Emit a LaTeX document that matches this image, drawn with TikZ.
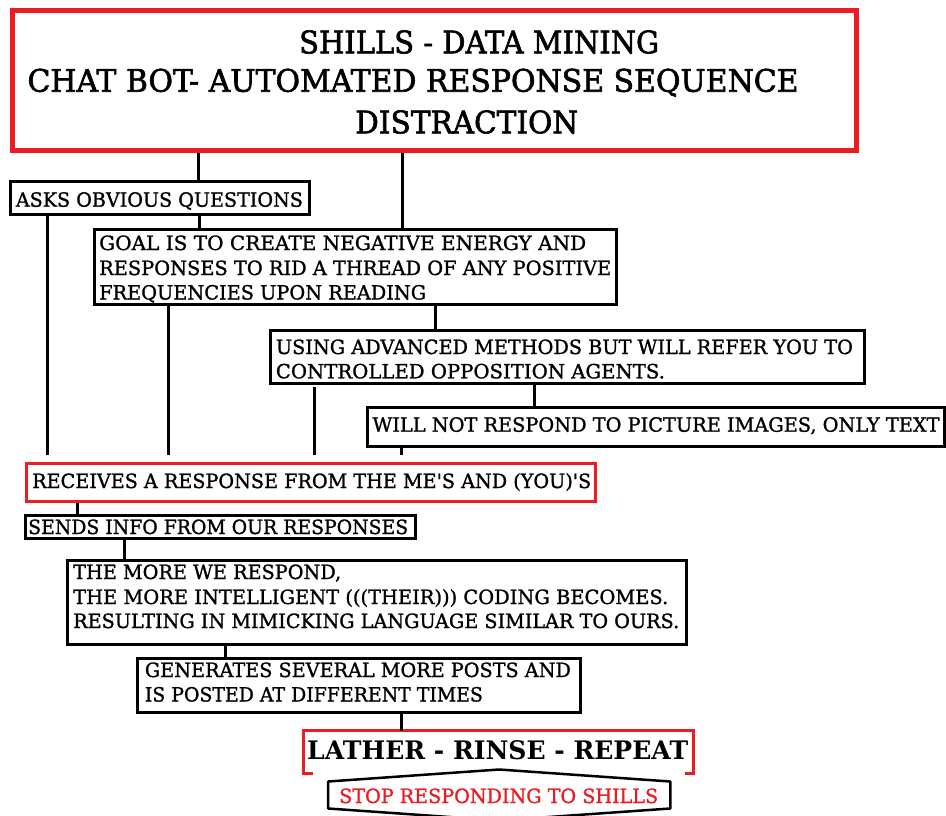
\documentclass[tikz,border=0pt]{standalone}
\usepackage{fontspec}
\usepackage{graphicx}
\setmainfont{DejaVu Serif}
\newfontfamily\heavy{DejaVu Serif}[FakeBold=1.2]
\newfontfamily\heavier{DejaVu Serif}[FakeBold=2]
\definecolor{pred}{HTML}{ED1C24}
\newcommand\fw[2]{\resizebox{#1pt}{\height}{#2}}
\newcommand\apo{\textquotesingle}
\begin{document}
\begin{tikzpicture}[x=1pt,y=-1pt,
  blk/.style={draw=black,line width=3pt,inner sep=0pt},
  redb/.style={draw=pred,line width=3pt,inner sep=0pt},
  ghost/.style={inner sep=0pt},
  ln/.style={inner sep=0pt,anchor=base west,font=\heavy\fontsize{19.6}{24}\selectfont},
  ttl/.style={inner sep=0pt,anchor=base west,font=\heavier\fontsize{31}{38}\selectfont},
  conn/.style={line width=3pt},
  gap/.style={shorten >=6.5pt}]
\useasboundingbox[fill=white] (0,0) rectangle (946,816);

% boxes
\node[redb,line width=5pt,minimum width=844.3pt,minimum height=140pt] (title) at (434.6,80.8) {};
\node[blk,minimum width=298.5pt,minimum height=32.6pt] (asks) at (159.75,198) {};
\node[blk,minimum width=522pt,minimum height=75pt] (goal) at (355.5,267) {};
\node[blk,minimum width=594pt,minimum height=53pt] (using) at (567.5,357) {};
\node[blk,minimum width=577pt,minimum height=39pt] (willnot) at (656,427) {};
\node[redb,minimum width=569pt,minimum height=38pt] (receives) at (311,482.2) {};
\node[blk,minimum width=390.3pt,minimum height=23pt] (sends) at (220.65,527) {};
\node[blk,minimum width=619.6pt,minimum height=83.7pt] (more) at (377,602.6) {};
\node[blk,minimum width=443.6pt,minimum height=54.3pt] (gen) at (359,685.4) {};
\node[ghost,minimum width=390.3pt,minimum height=42.3pt] (lather) at (498.35,752.2) {};
\node[ghost,minimum width=341.7pt,minimum height=26.6pt] (stop) at (499.2,795) {};

% bracket and hexagon
\draw[pred,line width=3pt] ([xshift=10pt]lather.south west) -- (lather.south west) -- (lather.north west) -- (lather.north east) -- (lather.south east) -- ([xshift=-9pt]lather.south east);
\draw[black,line width=2.5pt,line join=round] (stop.north west) -- ([yshift=12pt]stop.north) -- (stop.north east) -- (stop.south east) -- ([yshift=-12pt]stop.south) -- (stop.south west) -- cycle;

% texts
\node[ttl] (t1) at (299,53.3) {\fw{360}{SHILLS - DATA MINING}};
\node[ttl] (t2) at (27.3,91.7) {\fw{771}{CHAT BOT- AUTOMATED RESPONSE SEQUENCE}};
\node[ttl] (t3) at (355,133.3) {\fw{223}{DISTRACTION}};
\node[ln] (a1) at (15.7,206.7) {\fw{287}{ASKS OBVIOUS QUESTIONS}};
\node[ln] (g1) at (99,250) {\fw{487}{GOAL IS TO CREATE NEGATIVE ENERGY AND}};
\node[ln] (g2) at (99,275) {\fw{512}{RESPONSES TO RID A THREAD OF ANY POSITIVE}};
\node[ln] (g3) at (99,299.5) {\fw{327}{FREQUENCIES UPON READING}};
\node[ln] (u1) at (275.7,354) {\fw{577}{USING ADVANCED METHODS BUT WILL REFER YOU TO}};
\node[ln] (u2) at (275.7,378.3) {\fw{389}{CONTROLLED OPPOSITION AGENTS.}};
\node[ln] (w1) at (372.3,431.7) {\fw{567}{WILL NOT RESPOND TO PICTURE IMAGES, ONLY TEXT}};
\node[ln] (r1) at (32,488) {\fw{559}{RECEIVES A RESPONSE FROM THE ME\apo S AND (YOU)\apo S}};
\node[ln] (s1) at (28,534) {\fw{380}{SENDS INFO FROM OUR RESPONSES}};
\node[ln] (m1) at (73,579) {\fw{268}{THE MORE WE RESPOND,}};
\node[ln] (m2) at (73,604) {\fw{595}{THE MORE INTELLIGENT (((THEIR))) CODING BECOMES.}};
\node[ln] (m3) at (73,628) {\fw{606}{RESULTING IN MIMICKING LANGUAGE SIMILAR TO OURS.}};
\node[ln] (e1) at (144.7,677) {\fw{426}{GENERATES SEVERAL MORE POSTS AND}};
\node[ln] (e2) at (144.7,701.5) {\fw{338}{IS POSTED AT DIFFERENT TIMES}};
\node[ln,font=\rmfamily\fontsize{25.5}{30}\selectfont\bfseries] (lt) at (307,759) {\fw{381}{LATHER - RINSE - REPEAT}};
\node[ln,text=pred] (st) at (339,803) {\fw{319}{STOP RESPONDING TO SHILLS}};

% connector x positions
\path (198.7,0) coordinate (x1) (402.7,0) coordinate (x2) (199.3,0) coordinate (x3)
      (47.7,0) coordinate (x4) (168.3,0) coordinate (x5) (435,0) coordinate (x6)
      (314.3,0) coordinate (x7) (534,0) coordinate (x8) (401.7,0) coordinate (x9)
      (77.3,0) coordinate (x10) (124.7,0) coordinate (x11) (225.3,0) coordinate (x12)
      (401.7,0) coordinate (x13);

% connectors
\draw[conn] (title.south -| x1) -- (asks.north -| x1);
\draw[conn] (title.south -| x2) -- (goal.north -| x2);
\draw[conn] (asks.south -| x3) -- (goal.north -| x3);
\draw[conn,gap] (asks.south -| x4) -- (receives.north -| x4);
\draw[conn,gap] (goal.south -| x5) -- (receives.north -| x5);
\draw[conn] (goal.south -| x6) -- (using.north -| x6);
\draw[conn,gap,shorten <=2pt] (using.south -| x7) -- (receives.north -| x7);
\draw[conn] (using.south -| x8) -- (willnot.north -| x8);
\draw[conn,gap] (willnot.south -| x9) -- (receives.north -| x9);
\draw[conn] (receives.south -| x10) -- (sends.north -| x10);
\draw[conn] (sends.south -| x11) -- (more.north -| x11);
\draw[conn] (more.south -| x12) -- (gen.north -| x12);
\draw[conn] (gen.south -| x13) -- (lather.north -| x13);
\end{tikzpicture}
\end{document}
